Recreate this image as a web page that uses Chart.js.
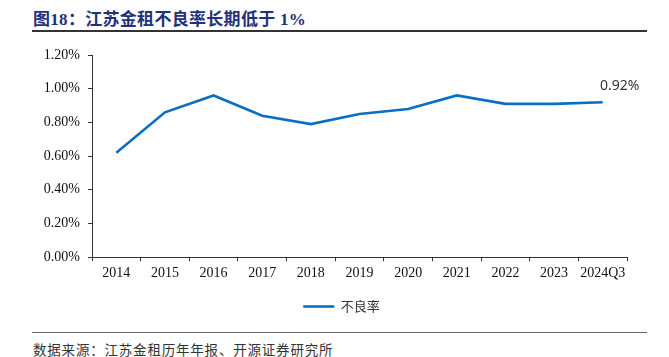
<!DOCTYPE html>
<html>
<head>
<meta charset="utf-8">
<script src="https://cdn.jsdelivr.net/npm/chart.js@4/dist/chart.umd.min.js"></script>
<style>
  html, body { margin: 0; padding: 0; background: #fff; }
  body { width: 669px; height: 357px; position: relative; overflow: hidden; }
  #title { position: absolute; left: 33px; top: 5px; font-family: "Liberation Serif", "Noto Sans CJK SC", serif; font-weight: bold; font-size: 17px; color: #25307a; white-space: nowrap; letter-spacing: 0.3px; }
  #tline { position: absolute; left: 32px; top: 30px; width: 615px; height: 2px; background: #333; }
  #sline { position: absolute; left: 32px; top: 332px; width: 615px; height: 1px; background: #666; }
  #source { position: absolute; left: 33px; top: 339px; font-family: "Noto Sans CJK SC", sans-serif; font-size: 13.5px; color: #333; white-space: nowrap; letter-spacing: 0.8px; }
  #wrap { position: absolute; left: 0; top: 0; width: 669px; height: 325px; }
</style>
</head>
<body>
<div id="title">图18：江苏金租不良率长期低于 1%</div>
<div id="tline"></div>
<div id="wrap"><canvas id="c"></canvas></div>
<div id="sline"></div>
<div id="source">数据来源：江苏金租历年年报、开源证券研究所</div>
<script>
const categories = ["2014","2015","2016","2017","2018","2019","2020","2021","2022","2023","2024Q3"];
const seriesName = "不良率";
const nplRatio = [0.62, 0.86, 0.96, 0.84, 0.79, 0.85, 0.88, 0.96, 0.91, 0.91, 0.92];
const yTicks = [0, 0.2, 0.4, 0.6, 0.8, 1.0, 1.2];

const lastLabel = {
  id: 'lastLabel',
  afterDatasetsDraw(chart) {
    const meta = chart.getDatasetMeta(0);
    const i = meta.data.length - 1;
    const pt = meta.data[i];
    const ctx = chart.ctx;
    ctx.save();
    ctx.font = '14px "Noto Sans", "DejaVu Sans", sans-serif';
    ctx.fillStyle = '#333';
    ctx.textAlign = 'center';
    ctx.textBaseline = 'bottom';
    ctx.fillText(nplRatio[i].toFixed(2) + '%', pt.x + 17, pt.y - 9);
    ctx.restore();
  }
};

// center the legend under the plot area rather than the whole canvas
const legendShift = {
  id: 'legendShift',
  afterUpdate(chart) {
    if (chart.legend) {
      chart.legend.left = chart.chartArea.left - 36;
    }
  }
};

new Chart(document.getElementById('c'), {
  type: 'line',
  data: {
    labels: categories,
    datasets: [{
      label: seriesName,
      data: nplRatio,
      borderColor: '#0a6fc2',
      backgroundColor: '#0a6fc2',
      borderWidth: 2.6,
      pointRadius: 0,
      tension: 0,
      pointStyle: 'line'
    }]
  },
  options: {
    responsive: true,
    maintainAspectRatio: false,
    animation: false,
    layout: { padding: { left: 0, right: 42, top: 55, bottom: 2 } },
    plugins: {
      legend: {
        position: 'bottom',
        labels: {
          usePointStyle: true,
          pointStyleWidth: 31,
          font: { family: '"Noto Sans CJK SC", sans-serif', size: 13 },
          color: '#333',
          padding: 14
        }
      },
      tooltip: { enabled: false }
    },
    scales: {
      x: {
        offset: true,
        grid: { display: true, drawOnChartArea: false, drawTicks: true, tickLength: 4, color: '#333', offset: true },
        border: { display: true, color: '#333', width: 1 },
        ticks: { font: { family: '"Liberation Serif", serif', size: 14 }, color: '#111', padding: 4, maxRotation: 0, autoSkip: false }
      },
      y: {
        min: 0,
        max: 1.2,
        afterFit(scale) { scale.width = 92; },
        afterBuildTicks(scale) { scale.ticks = yTicks.map(v => ({ value: v })); },
        grid: { display: true, drawOnChartArea: false, drawTicks: true, tickLength: 4, color: '#333' },
        border: { display: true, color: '#333', width: 1 },
        ticks: {
          font: { family: '"Liberation Serif", serif', size: 14 },
          color: '#111',
          padding: 8,
          callback: v => v.toFixed(2) + '%'
        }
      }
    }
  },
  plugins: [lastLabel, legendShift]
});
</script>
</body>
</html>
